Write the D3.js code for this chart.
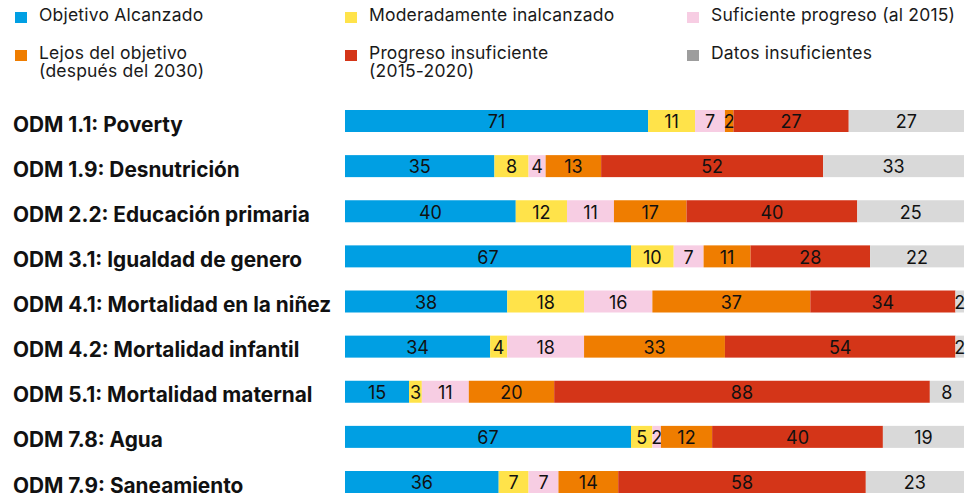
<!DOCTYPE html>
<html><head><meta charset="utf-8">
<script src="https://cdn.jsdelivr.net/npm/d3@7"></script>
<style>body{margin:0;background:#fff}svg{display:block;font-family:Inter,"Noto Sans",sans-serif}</style>
</head><body><svg id="c" width="975" height="499"></svg>
<script>
const categories = ["ODM 1.1: Poverty","ODM 1.9: Desnutrición","ODM 2.2: Educación primaria","ODM 3.1: Igualdad de genero","ODM 4.1: Mortalidad en la niñez","ODM 4.2: Mortalidad infantil","ODM 5.1: Mortalidad maternal","ODM 7.8: Agua","ODM 7.9: Saneamiento"];
const seriesNames = ["Objetivo Alcanzado","Moderadamente inalcanzado","Suficiente progreso (al 2015)","Lejos del objetivo (después del 2030)","Progreso insuficiente (2015-2020)","Datos insuficientes"];
const alcanzado   = [71,35,40,67,38,34,15,67,36];
const moderado    = [11,8,12,10,18,4,3,5,7];
const suficiente  = [7,4,11,7,16,18,11,2,7];
const lejos       = [2,13,17,11,37,33,20,12,14];
const insuficiente= [27,52,40,28,34,54,88,40,58];
const sinDatos    = [27,33,25,22,2,2,8,19,23];
const colors = ["#009fe3","#ffe34a","#f7cde3","#ef7d00","#d43518","#d9d9d9"];
const legendColors = ["#009fe3","#ffe34a","#f7cde3","#ef7d00","#d43518","#9d9d9d"];
const legendLines = [["Objetivo Alcanzado"],["Moderadamente inalcanzado"],["Suficiente progreso (al 2015)"],["Lejos del objetivo","(después del 2030)"],["Progreso insuficiente","(2015-2020)"],["Datos insuficientes"]];

const seriesData = [alcanzado,moderado,suficiente,lejos,insuficiente,sinDatos];
const keys = seriesNames;
const rows = categories.map((c,i)=>{const o={cat:c}; keys.forEach((k,j)=>o[k]=seriesData[j][i]); return o;});
const stack = d3.stack().keys(keys)(rows);

const svg = d3.select("#c");
const x = d3.scaleLinear().domain([0,145]).range([345,964]);
const y = d3.scaleBand().domain(categories).range([110,493]).paddingInner(0.5125).paddingOuter(0);

// legend
const legX = [15,345,687], legY=[12,50];
legendLines.forEach((lines,i)=>{
  const col=i%3,row=Math.floor(i/3);
  const g=svg.append("g").attr("transform",`translate(${legX[col]},${legY[row]})`);
  g.append("rect").attr("width",12).attr("height",11).attr("fill",legendColors[i]);
  const t=g.append("text").attr("x",24).attr("y",9).attr("font-size",17.5).attr("letter-spacing",0.2).attr("fill","#1a1a1a");
  lines.forEach((s,k)=>t.append("tspan").attr("x",24).attr("dy",k?18:0).text(s));
});

// category labels
svg.append("g").selectAll("text").data(categories).join("text")
  .attr("x",13).attr("y",d=>y(d)+21.5)
  .attr("font-size",20.8).attr("font-weight",700).attr("fill","#111")
  .text(d=>d);

// bars
stack.forEach((s,j)=>{
  const g=svg.append("g");
  g.selectAll("rect").data(s).join("rect")
    .attr("x",d=>x(d[0])).attr("width",d=>x(d[1])-x(d[0]))
    .attr("y",d=>y(d.data.cat)).attr("height",y.bandwidth())
    .attr("fill",colors[j]);
  g.selectAll("text").data(s).join("text")
    .attr("x",d=>(x(d[0])+x(d[1]))/2).attr("y",d=>y(d.data.cat)+18.3)
    .attr("text-anchor","middle").attr("font-size",18).attr("fill","#111")
    .text(d=>d[1]-d[0]);
});
</script></body></html>
